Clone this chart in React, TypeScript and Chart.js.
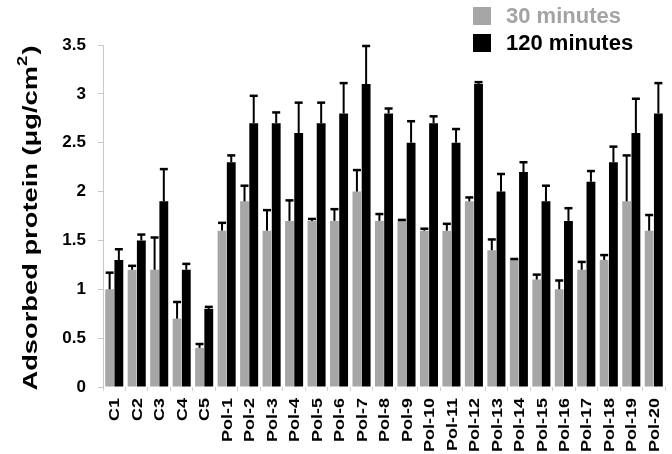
import React, { useEffect, useRef } from "react";
import { Chart, registerables } from "chart.js";

Chart.register(...registerables);

const categories = ["C1","C2","C3","C4","C5","Pol-1","Pol-2","Pol-3","Pol-4","Pol-5","Pol-6","Pol-7","Pol-8","Pol-9","Pol-10","Pol-11","Pol-12","Pol-13","Pol-14","Pol-15","Pol-16","Pol-17","Pol-18","Pol-19","Pol-20"];
const values30 = [1.0,1.2,1.2,0.7,0.4,1.6,1.9,1.6,1.7,1.7,1.7,2.0,1.7,1.7,1.6,1.6,1.9,1.4,1.3,1.1,1.0,1.2,1.3,1.9,1.6];
const errors30 = [0.17,0.04,0.33,0.17,0.04,0.08,0.16,0.21,0.21,0.02,0.12,0.22,0.07,0.01,0.02,0.07,0.04,0.11,0.01,0.05,0.09,0.08,0.05,0.47,0.16];
const values120 = [1.3,1.5,1.9,1.2,0.8,2.3,2.7,2.7,2.6,2.7,2.8,3.1,2.8,2.5,2.7,2.5,3.1,2.0,2.2,1.9,1.7,2.1,2.3,2.6,2.8];
const errors120 = [0.11,0.06,0.33,0.06,0.02,0.07,0.28,0.11,0.31,0.21,0.31,0.39,0.05,0.22,0.07,0.14,0.02,0.18,0.1,0.16,0.13,0.11,0.16,0.35,0.31];
const yTicks = [0, 0.5, 1, 1.5, 2, 2.5, 3, 3.5];
const seriesNames = ["30 minutes", "120 minutes"];
const seriesColors = ["#a6a6a6", "#000000"];
const legendTextColors = ["#a3a3a3", "#000000"];

const FONT = "Arial, 'Liberation Sans', sans-serif";

const errorBarPlugin = {
  id: "errorBars",
  afterDatasetsDraw(chart: any) {
    const ctx = chart.ctx;
    const y = chart.scales.y;
    const errs = [errors30, errors120];
    ctx.save();
    ctx.strokeStyle = "#000";
    chart.data.datasets.forEach((ds: any, di: number) => {
      const meta = chart.getDatasetMeta(di);
      meta.data.forEach((el: any, i: number) => {
        const v = ds.data[i];
        const top = y.getPixelForValue(v + errs[di][i]);
        const base = y.getPixelForValue(v);
        ctx.lineWidth = 2;
        ctx.beginPath();
        ctx.moveTo(el.x, base);
        ctx.lineTo(el.x, top);
        ctx.stroke();
        ctx.lineWidth = 2.5;
        ctx.beginPath();
        ctx.moveTo(el.x - 4, top);
        ctx.lineTo(el.x + 4, top);
        ctx.stroke();
      });
    });
    ctx.restore();
  },
};

const decorPlugin = {
  id: "decor",
  afterDraw(chart: any) {
    const ctx = chart.ctx;
    const area = chart.chartArea;
    const xs = chart.scales.x;

    // x category labels (rotated, slightly stretched along text)
    ctx.save();
    ctx.fillStyle = "#000";
    ctx.font = "bold 15px " + FONT;
    ctx.textAlign = "right";
    ctx.textBaseline = "middle";
    categories.forEach((lab, i) => {
      const x = xs.getPixelForTick(i);
      ctx.save();
      ctx.translate(x + 1, area.bottom + 11);
      ctx.rotate(-Math.PI / 2);
      ctx.scale(1.2, 1);
      ctx.fillText(lab, 0, 0);
      ctx.restore();
    });
    ctx.restore();

    // y axis title with superscript
    ctx.save();
    ctx.translate(31, 218);
    ctx.rotate(-Math.PI / 2);
    ctx.scale(1.3, 1);
    ctx.fillStyle = "#000";
    ctx.textAlign = "left";
    ctx.textBaseline = "middle";
    const main = "Adsorbed protein (\u03bcg/cm";
    const big = "bold 21px " + FONT;
    const small = "bold 14px " + FONT;
    ctx.font = big;
    const w1 = ctx.measureText(main).width;
    const w3 = ctx.measureText(")").width;
    ctx.font = small;
    const w2 = ctx.measureText("2").width;
    const total = w1 + w2 + w3 + 1;
    let cx = -total / 2;
    ctx.font = big;
    ctx.fillText(main, cx, 0);
    cx += w1;
    ctx.font = small;
    ctx.fillText("2", cx, -8);
    cx += w2 + 1;
    ctx.font = big;
    ctx.fillText(")", cx, 0);
    ctx.restore();

    // legend
    ctx.save();
    ctx.font = "bold 22px " + FONT;
    ctx.textBaseline = "middle";
    ctx.textAlign = "left";
    seriesNames.forEach((name, i) => {
      const yTop = 7 + i * 27;
      ctx.fillStyle = seriesColors[i];
      ctx.fillRect(473, yTop, 18, 18);
      ctx.fillStyle = legendTextColors[i];
      ctx.fillText(name, 506, yTop + 10);
    });
    ctx.restore();
  },
};

export default function App() {
  const ref = useRef<HTMLCanvasElement>(null);
  useEffect(() => {
    document.body.style.margin = "0";
    const chart = new Chart(ref.current!, {
      type: "bar",
      data: {
        labels: categories,
        datasets: [
          { label: seriesNames[0], data: values30, backgroundColor: seriesColors[0], categoryPercentage: 0.82, barPercentage: 0.96 },
          { label: seriesNames[1], data: values120, backgroundColor: seriesColors[1], categoryPercentage: 0.82, barPercentage: 0.96 },
        ],
      },
      options: {
        animation: false,
        responsive: false,
        layout: { padding: { left: 0, right: 7, top: 45, bottom: 0 } },
        plugins: { legend: { display: false }, tooltip: { enabled: false } },
        scales: {
          x: {
            offset: true,
            grid: { display: true, drawOnChartArea: false, offset: true, tickLength: 4, color: "#d0d0d0" },
            border: { display: false },
            ticks: { display: false, autoSkip: false },
            afterFit(scale: any) { scale.height = 67; },
          },
          y: {
            min: 0,
            max: 3.5,
            afterBuildTicks(scale: any) { scale.ticks = yTicks.map((v) => ({ value: v })); },
            grid: { display: true, drawOnChartArea: false, tickLength: 5, color: "#c8c8c8" },
            border: { display: true, color: "#c8c8c8", width: 1 },
            ticks: {
              padding: 12,
              color: "#000",
              font: { family: FONT, weight: "bold", size: 17 },
              callback: (v: any) => String(v),
            },
            afterFit(scale: any) { scale.width = 103; },
          },
        },
      },
      plugins: [errorBarPlugin, decorPlugin],
    } as any);
    return () => chart.destroy();
  }, []);
  return <canvas ref={ref} width={672} height={454} style={{ display: "block" }} />;
}
